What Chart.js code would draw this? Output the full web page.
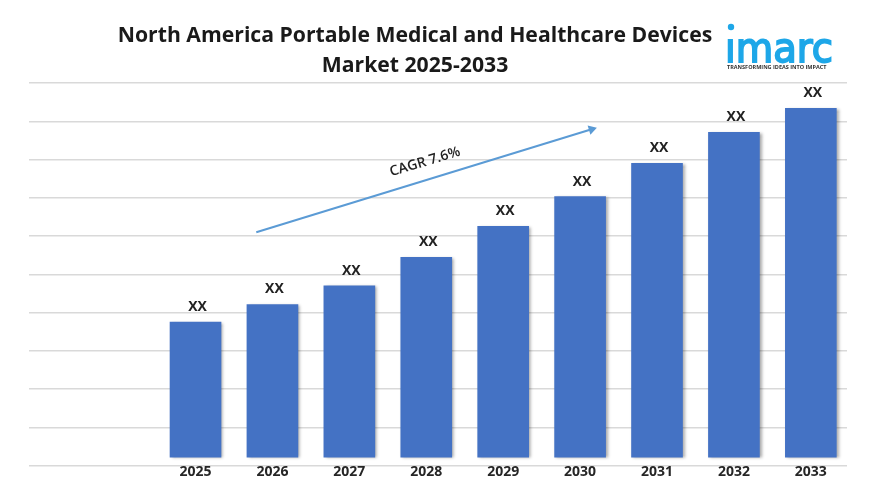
<!DOCTYPE html>
<html>
<head>
<meta charset="utf-8">
<title>North America Portable Medical and Healthcare Devices Market 2025-2033</title>
<script src="https://cdn.jsdelivr.net/npm/chart.js@4"></script>
<style>
    html, body { margin: 0; padding: 0; background: #fff; }
    canvas { display: block; }
</style>
</head>
<body>
<canvas id="marketChart" width="870" height="492"></canvas>
<script>
const years = [2025, 2026, 2027, 2028, 2029, 2030, 2031, 2032, 2033];
const marketValues = [3.75, 4.21, 4.7, 5.44, 6.25, 7.03, 7.9, 8.71, 9.34];
const valueLabels = ['XX', 'XX', 'XX', 'XX', 'XX', 'XX', 'XX', 'XX', 'XX'];
const titleLines = ['North America Portable Medical and Healthcare Devices', 'Market 2025-2033'];
const cagrLabel = 'CAGR 7.6%';
// 矢印の始点と終点（軸の単位）
const trendLine = [{ x: 2025.79, y: 6.1 }, { x: 2030.15, y: 8.79 }];

const FONT = '"Open Sans", sans-serif';

const barShadow = {
    id: 'barShadow',
    beforeDatasetDraw(chart, args) {
        if (args.index !== 0) return;
        chart.ctx.save();
        chart.ctx.shadowColor = 'rgba(0, 0, 0, 0.35)';
        chart.ctx.shadowBlur = 3;
        chart.ctx.shadowOffsetX = 2;
        chart.ctx.shadowOffsetY = 1;
    },
    afterDatasetDraw(chart, args) {
        if (args.index === 0) chart.ctx.restore();
    }
};

const textLayer = {
    id: 'textLayer',
    afterDraw(chart) {
        const ctx = chart.ctx;
        ctx.save();
        ctx.textAlign = 'center';
        ctx.textBaseline = 'middle';

        // タイトル
        ctx.fillStyle = '#1a1a1a';
        ctx.font = 'bold 21.2px ' + FONT;
        ctx.fillText(titleLines[0], 415, 35.5);
        ctx.fillText(titleLines[1], 415, 65.5);

        // 棒の上のラベル
        ctx.font = 'bold 14px ' + FONT;
        ctx.fillStyle = '#222';
        chart.getDatasetMeta(0).data.forEach((bar, i) => {
            ctx.fillText(valueLabels[i], bar.x + 2, bar.y - 15);
        });

        // CAGR
        ctx.save();
        ctx.translate(425, 162);
        ctx.rotate(-16.8 * Math.PI / 180);
        ctx.font = '600 14px ' + FONT;
        ctx.fillText(cagrLabel, 0, 0);
        ctx.restore();

        // ロゴ
        ctx.textAlign = 'left';
        ctx.textBaseline = 'alphabetic';
        ctx.fillStyle = '#1ea7e8';
        ctx.strokeStyle = '#1ea7e8';
        ctx.lineWidth = 1.8;
        ctx.font = '40px "DejaVu Sans"';
        ctx.fillText('imarc', 725, 62, 108);
        ctx.strokeText('imarc', 725, 62, 108);
        ctx.fillStyle = '#fff';
        ctx.fillRect(725, 24, 12, 15);
        ctx.fillStyle = '#1ea7e8';
        ctx.beginPath();
        ctx.arc(731, 27, 3.2, 0, Math.PI * 2);
        ctx.fill();
        ctx.fillStyle = '#333';
        ctx.font = 'bold 5.5px ' + FONT;
        ctx.fillText('TRANSFORMING IDEAS INTO IMPACT', 727, 69, 107);
        ctx.restore();
    }
};

new Chart(document.getElementById('marketChart').getContext('2d'), {
    data: {
        datasets: [
            {
                type: 'bar',
                data: years.map((year, i) => ({ x: year, y: marketValues[i] })),
                base: 0.22,
                backgroundColor: '#4472c4',
                barThickness: 51,
                order: 1
            },
            {
                type: 'line',
                data: trendLine,
                borderColor: '#5b9bd5',
                backgroundColor: '#5b9bd5',
                borderWidth: 2,
                pointStyle: 'triangle',
                pointRotation: 73,
                pointRadius: [0, 3.5],
                order: 0
            }
        ]
    },
    options: {
        responsive: false,
        animation: false,
        events: [],
        layout: { padding: { left: 29, right: 23, top: 83, bottom: 0 } },
        scales: {
            x: {
                type: 'linear',
                offset: false,
                min: 2022.835,
                max: 2033.47,
                grid: { display: false, drawTicks: false },
                border: { display: false },
                afterBuildTicks(axis) {
                    axis.ticks = years.map(value => ({ value }));
                },
                afterFit(axis) {
                    axis.height = 26.5;
                },
                ticks: {
                    autoSkip: false,
                    maxRotation: 0,
                    padding: -2,
                    color: '#262626',
                    font: { family: 'Open Sans', size: 14, weight: 'bold' },
                    callback: value => String(value)
                }
            },
            y: {
                min: 0,
                max: 10,
                grid: { color: '#d9d9d9', lineWidth: 1.5, drawTicks: false },
                border: { display: false },
                afterFit(axis) {
                    axis.width = 0;
                },
                ticks: { display: false, stepSize: 1 }
            }
        },
        plugins: {
            legend: { display: false },
            title: { display: false },
            tooltip: { enabled: false }
        }
    },
    plugins: [barShadow, textLayer]
});
</script>
</body>
</html>
